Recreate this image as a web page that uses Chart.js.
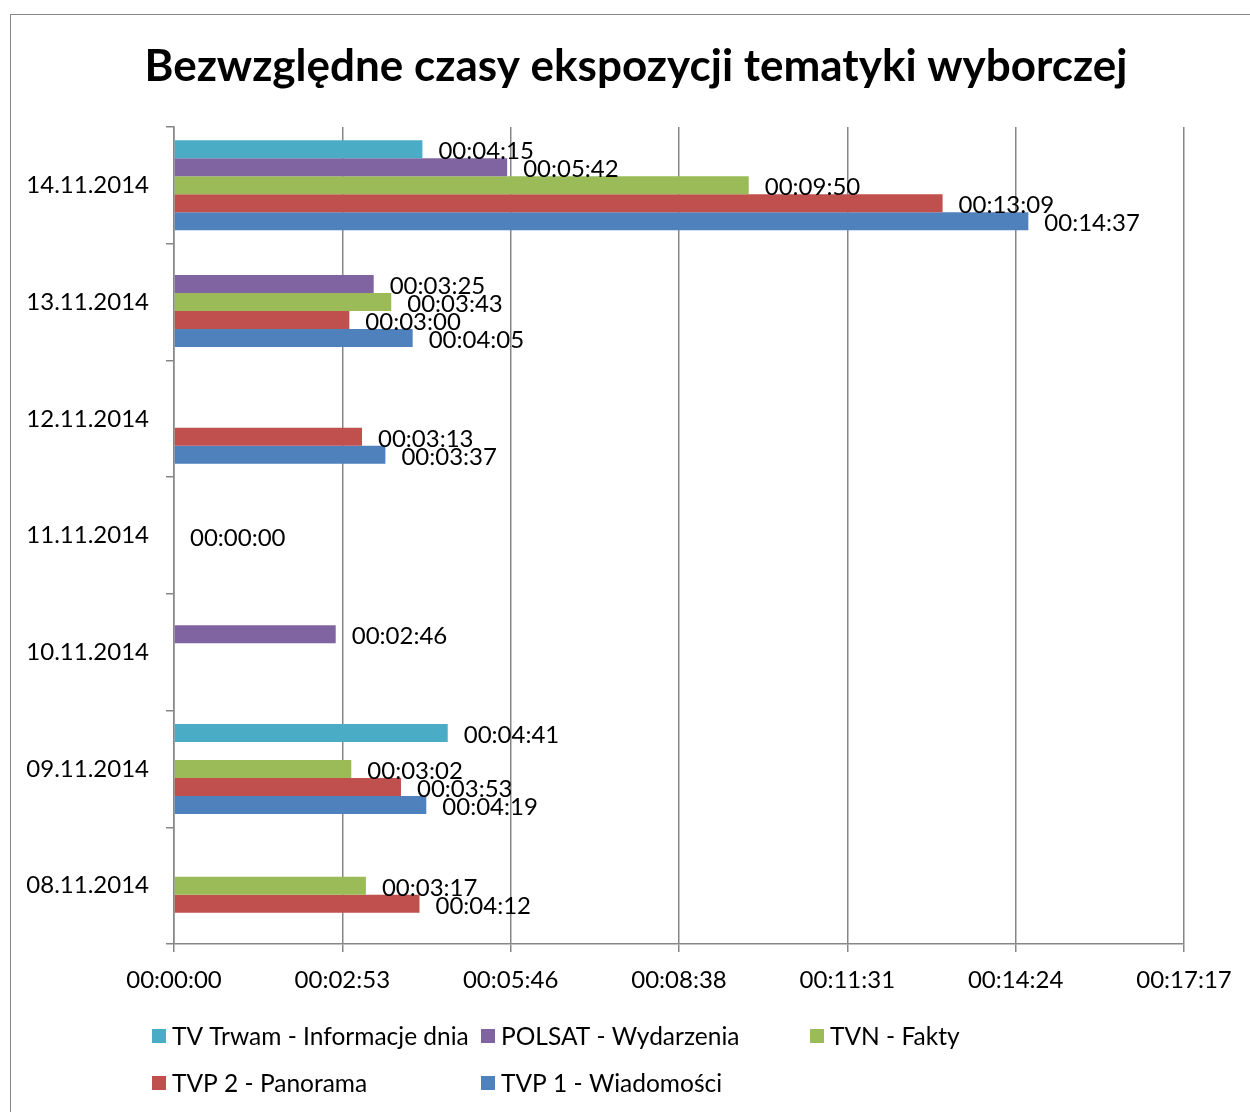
<!DOCTYPE html>
<html lang="pl">
<head>
<meta charset="utf-8">
<title>Bezwzględne czasy ekspozycji tematyki wyborczej</title>
<script src="https://cdn.jsdelivr.net/npm/chart.js@4.4.1/dist/chart.umd.min.js"></script>
<style>
    html, body { margin: 0; padding: 0; background: #fff; overflow: hidden; }
    #wrap { position: relative; width: 1250px; height: 1112px; }
    #frame { position: absolute; left: 10px; top: 14px; width: 1300px; height: 1200px;
             border: 1px solid #868686; box-sizing: border-box; pointer-events: none; }
    #chart { position: absolute; left: 0; top: 0; }
</style>
</head>
<body>
<div id="wrap">
    <canvas id="chart" width="1250" height="1112"></canvas>
    <div id="frame"></div>
</div>
<script>
// Dane (czasy w sekundach)
const title = 'Bezwzględne czasy ekspozycji tematyki wyborczej';
const categories = ['14.11.2014', '13.11.2014', '12.11.2014', '11.11.2014', '10.11.2014', '09.11.2014', '08.11.2014'];
const seriesNames = ['TV Trwam - Informacje dnia', 'POLSAT - Wydarzenia', 'TVN - Fakty', 'TVP 2 - Panorama', 'TVP 1 - Wiadomości'];
const tvTrwam = [255, null, null, null, null, 281, null];
const polsat  = [342, 205, null, null, 166, null, null];
const tvn     = [590, 223, null, 0, null, 182, 197];
const tvp2    = [789, 180, 193, null, null, 233, 252];
const tvp1    = [877, 245, 217, null, null, 259, null];
const seriesColors = ['#4BACC6', '#8064A2', '#9BBB59', '#C0504D', '#4F81BD'];
const xTickLabels = ['00:00:00', '00:02:53', '00:05:46', '00:08:38', '00:11:31', '00:14:24', '00:17:17'];
const xStep = 172.8; // 0,002 doby

const FONT = 'Lato';
const AXIS = '#868686';

function fmt(sec) {
    const h = Math.floor(sec / 3600);
    const m = Math.floor((sec % 3600) / 60);
    const s = Math.round(sec % 60);
    return [h, m, s].map(n => String(n).padStart(2, '0')).join(':');
}

// Etykiety danych przy końcach słupków
const valueLabels = {
    id: 'valueLabels',
    afterDatasetsDraw(chart) {
        const ctx = chart.ctx;
        ctx.save();
        ctx.font = '24px ' + FONT;
        ctx.fillStyle = '#000';
        ctx.textAlign = 'left';
        ctx.textBaseline = 'alphabetic';
        chart.data.datasets.forEach((ds, i) => {
            const meta = chart.getDatasetMeta(i);
            meta.data.forEach((el, j) => {
                const v = ds.data[j];
                if (v === null) return;
                ctx.fillText(fmt(v), el.x + 16, el.y + 10);
            });
        });
        ctx.restore();
    }
};

// Tytuł i legenda
const decorations = {
    id: 'decorations',
    afterDraw(chart) {
        const ctx = chart.ctx;
        ctx.save();
        ctx.fillStyle = '#000';
        ctx.font = 'bold 44px ' + FONT;
        ctx.textAlign = 'center';
        ctx.textBaseline = 'alphabetic';
        ctx.fillText(title, 636, 81);

        ctx.font = '24.5px ' + FONT;
        ctx.textAlign = 'left';
        chart.data.datasets.forEach((ds, i) => {
            const col = i % 3, row = Math.floor(i / 3);
            const x = 152 + col * 329;
            const y = 1036 + row * 47;
            ctx.fillStyle = ds.backgroundColor;
            ctx.fillRect(x, y - 7, 14, 14);
            ctx.fillStyle = '#000';
            ctx.fillText(ds.label, x + 20, y + 8.5);
        });
        ctx.restore();
    }
};

const seriesData = [tvTrwam, polsat, tvn, tvp2, tvp1];

new Chart(document.getElementById('chart'), {
    type: 'bar',
    data: {
        labels: categories,
        datasets: seriesNames.map((name, i) => ({
            label: name,
            data: seriesData[i],
            backgroundColor: seriesColors[i],
            borderWidth: 0,
            barPercentage: 1,
            categoryPercentage: 0.771
        }))
    },
    options: {
        indexAxis: 'y',
        responsive: false,
        animation: false,
        layout: { padding: { top: 127, right: 66, bottom: 108, left: 0 } },
        plugins: {
            legend: { display: false },
            title: { display: false },
            tooltip: { enabled: false }
        },
        scales: {
            y: {
                type: 'category',
                afterFit(scale) { scale.width = 174; },
                grid: { offset: true, drawOnChartArea: false, drawTicks: true, tickLength: 8, color: AXIS, lineWidth: 1.5 },
                border: { display: true, color: AXIS, width: 1.5 },
                ticks: { color: '#000', padding: 17, font: { family: FONT, size: 24 } }
            },
            x: {
                type: 'linear',
                min: 0,
                max: xStep * (xTickLabels.length - 1),
                afterFit(scale) { scale.height = 60; },
                afterBuildTicks(scale) {
                    scale.ticks = xTickLabels.map((_, i) => ({ value: i * xStep }));
                },
                grid: { color: AXIS, lineWidth: 1.5, tickLength: 8 },
                border: { display: true, color: AXIS, width: 1.5 },
                ticks: {
                    color: '#000', padding: 14, maxRotation: 0, autoSkip: false,
                    font: { family: FONT, size: 24 },
                    callback: (v, i) => xTickLabels[i]
                }
            }
        }
    },
    plugins: [valueLabels, decorations]
});
</script>
</body>
</html>
